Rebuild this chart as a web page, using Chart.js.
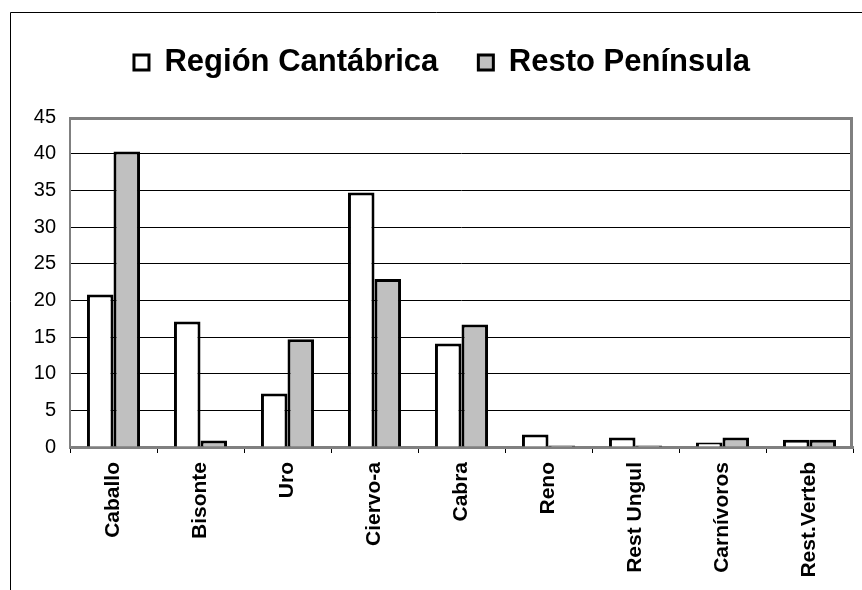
<!DOCTYPE html>
<html><head><meta charset="utf-8">
<script src="https://cdn.jsdelivr.net/npm/chart.js@4"></script>
<style>html,body{margin:0;padding:0;background:#fff;}canvas{display:block;}</style>
</head><body>
<canvas id="c" width="862" height="590" style="width:862px;height:590px"></canvas>
<script>
const categories = ["Caballo","Bisonte","Uro","Ciervo-a","Cabra","Reno","Rest Ungul","Carnívoros","Rest.Verteb"];
const regionCantabrica = [20.8, 17.1, 7.3, 34.7, 14.1, 1.7, 1.3, 0.6, 1.0];
const restoPeninsula   = [40.3, 0.9, 14.7, 22.9, 16.7, 0.2, 0.2, 1.3, 1.0];
const yTicks = [0,5,10,15,20,25,30,35,40,45];

const framePlugin = {
  id:'frame',
  afterDraw(chart){
    const ctx = chart.ctx, a = chart.chartArea;
    ctx.save();
    ctx.strokeStyle = '#000'; ctx.lineWidth = 1;
    ctx.beginPath();
    ctx.moveTo(10.5, 590); ctx.lineTo(10.5, 12.5); ctx.lineTo(862, 12.5);
    ctx.stroke();
    ctx.strokeStyle = '#808080'; ctx.lineWidth = 3;
    ctx.beginPath();
    ctx.moveTo(a.left, a.top+1.5); ctx.lineTo(a.right-1.5, a.top+1.5); ctx.lineTo(a.right-1.5, a.bottom);
    ctx.stroke();
    ctx.lineWidth = 2;
    ctx.beginPath(); ctx.moveTo(a.left, a.top); ctx.lineTo(a.left, a.bottom); ctx.stroke();
    ctx.restore();
  }
};

new Chart(document.getElementById('c'), {
  type:'bar',
  data:{
    labels: categories,
    datasets:[
      {label:'Región Cantábrica', data: regionCantabrica, backgroundColor:'#ffffff', borderColor:'#000', borderWidth:3},
      {label:'Resto Península', data: restoPeninsula, backgroundColor:'#c0c0c0', borderColor:'#000', borderWidth:3}
    ]
  },
  options:{
    responsive:false, devicePixelRatio:1, animation:false,
    layout:{padding:{left:31, right:9, top:7, bottom:0}},
    datasets:{bar:{categoryPercentage:0.61, barPercentage:1.0}},
    plugins:{
      tooltip:{enabled:false},
      legend:{
        position:'top', weight:3000,
        labels:{color:'#000', font:{family:'Liberation Sans, Arial', size:31, weight:'bold'}, boxWidth:15, boxHeight:15, padding:40}
      },
      title:{display:true, text:'', font:{size:1, lineHeight:1}, padding:{top:0, bottom:28}}
    },
    scales:{
      x:{
        grid:{display:true, offset:true, drawOnChartArea:false, drawTicks:true, tickLength:6, color:'#000', lineWidth:1},
        border:{display:true, color:'#808080', width:3},
        ticks:{color:'#000', font:{family:'Liberation Sans, Arial', size:21, weight:'bold'}, minRotation:90, maxRotation:90, padding:9, autoSkip:false},
        afterFit(s){ s.height = 143; }
      },
      y:{
        min:0, max:45,
        afterBuildTicks(s){ s.ticks = yTicks.map(v=>({value:v})); },
        grid:{color:'#000', lineWidth:1, drawTicks:false},
        border:{display:false},
        ticks:{color:'#000', font:{family:'Liberation Sans, Arial', size:20}, padding:14},
        afterFit(s){ s.width = 39; }
      }
    }
  },
  plugins:[framePlugin]
});
</script>
</body></html>
